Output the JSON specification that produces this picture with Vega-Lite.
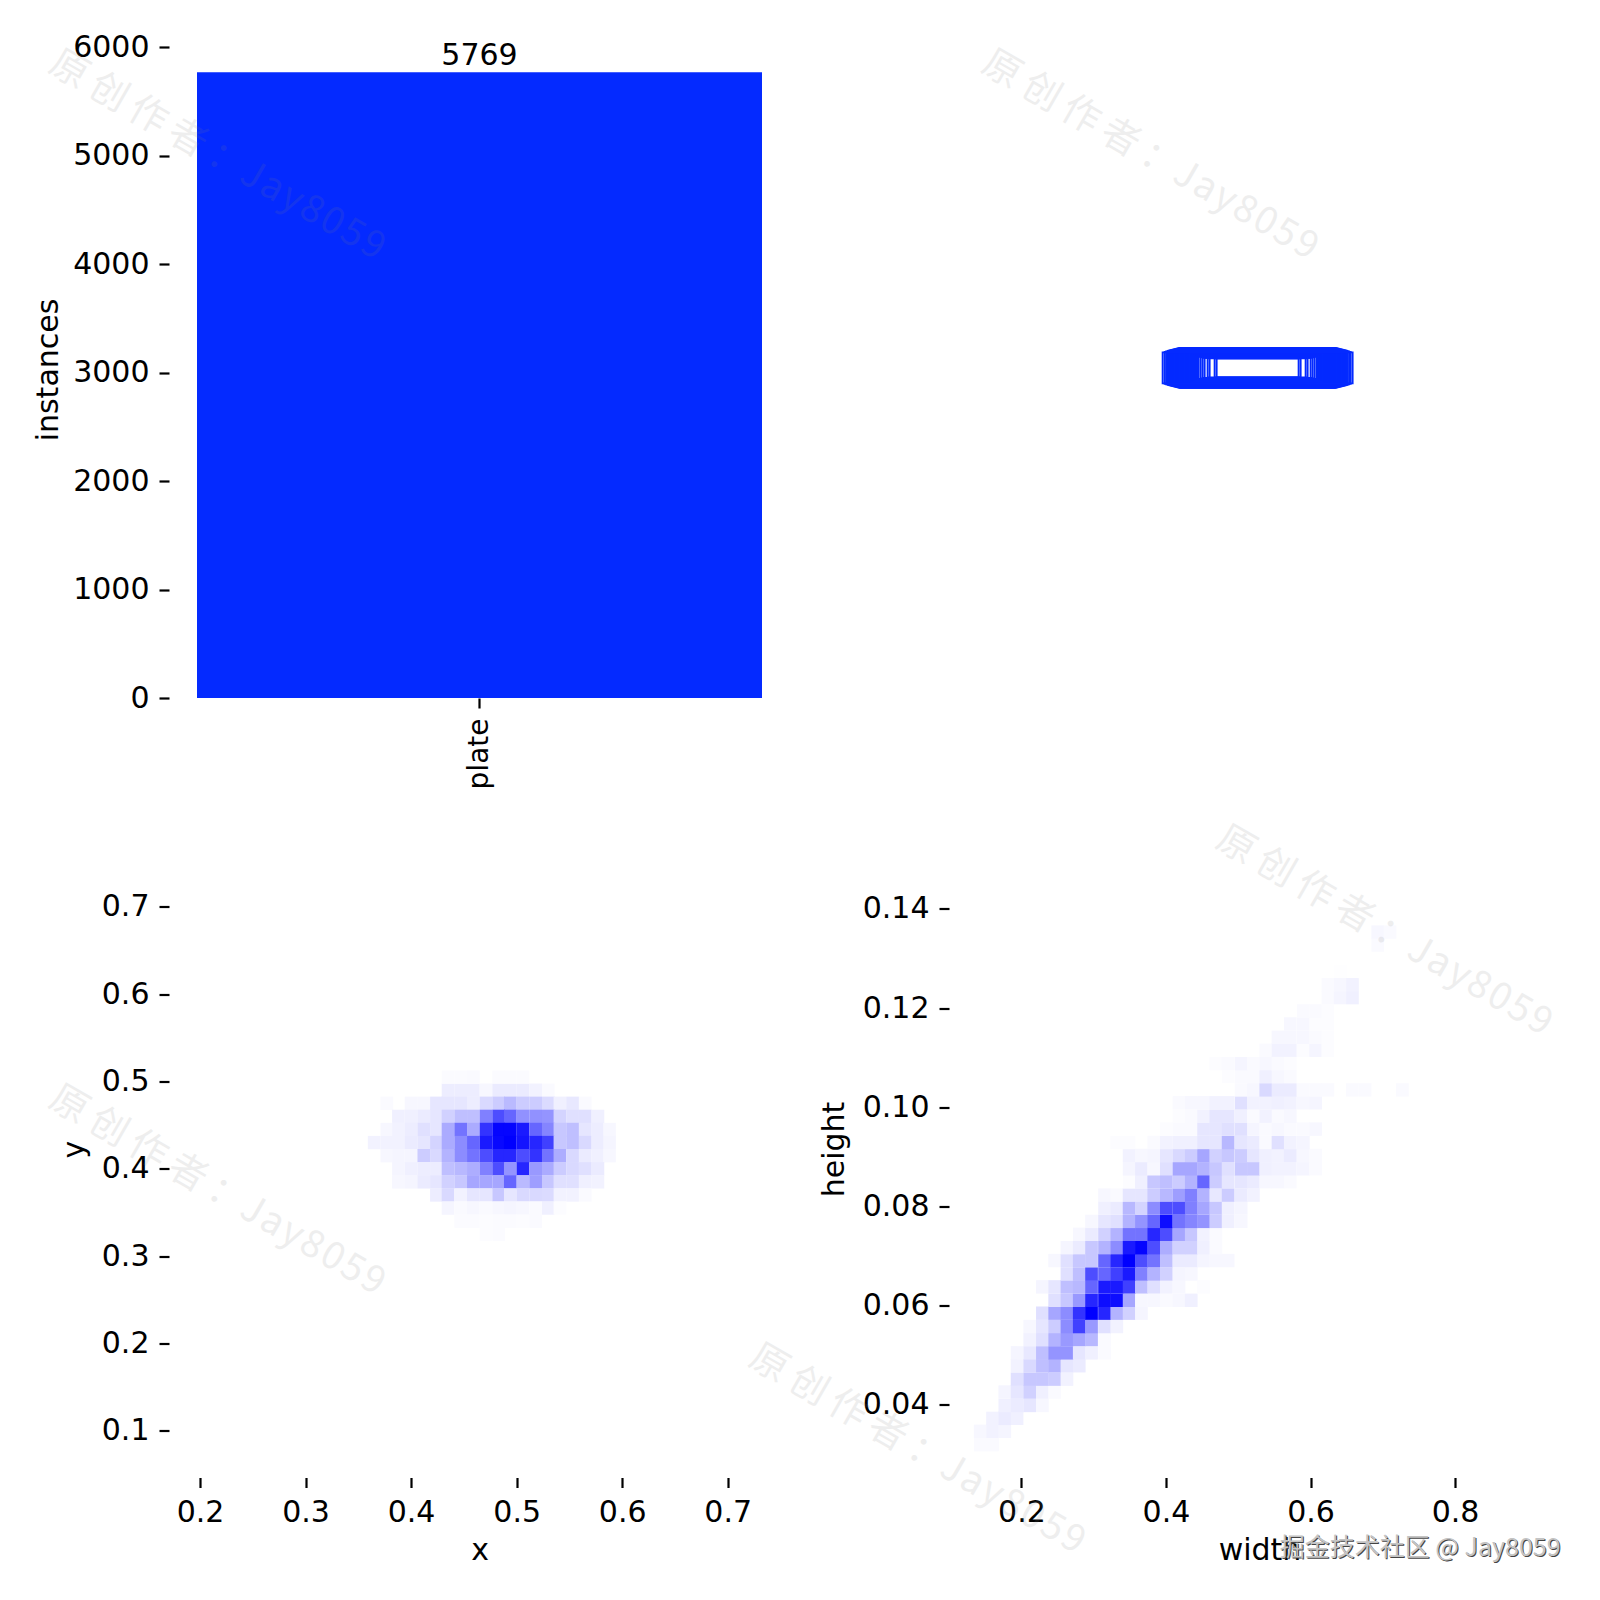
{
"$schema":"https://vega.github.io/schema/vega-lite/v6.json",
"background":"white",
"padding":{"left":33,"top":32,"right":0,"bottom":0},
"config":{"view":{"stroke":null},"axis":{"grid":false,"domain":false,"labelFont":"DejaVu Sans","titleFont":"DejaVu Sans","labelFontSize":30,"titleFontSize":30,"titleFontWeight":"normal","labelColor":"#000","titleColor":"#000","tickColor":"#000","tickSize":10,"tickWidth":2.2,"labelPadding":10,"labelFlush":false,"labelOverlap":false}},
"datasets":{
"xy":[
{"x":0.435,"y":0.490,"n":0.07},{"x":0.447,"y":0.490,"n":0.07},{"x":0.459,"y":0.490,"n":0.07},{"x":0.471,"y":0.490,"n":0.03},{"x":0.483,"y":0.490,"n":0.08},{"x":0.494,"y":0.490,"n":0.08},{"x":0.506,"y":0.490,"n":0.08},{"x":0.518,"y":0.490,"n":0.05},{"x":0.530,"y":0.490,"n":0.02},
{"x":0.435,"y":0.505,"n":0.015},{"x":0.447,"y":0.505,"n":0.015},{"x":0.459,"y":0.505,"n":0.02},{"x":0.483,"y":0.505,"n":0.015},{"x":0.494,"y":0.505,"n":0.015},{"x":0.506,"y":0.505,"n":0.015},
{"x":0.377,"y":0.475,"n":0.02},{"x":0.400,"y":0.475,"n":0.03},{"x":0.412,"y":0.475,"n":0.03},{"x":0.424,"y":0.475,"n":0.1},{"x":0.435,"y":0.475,"n":0.1},{"x":0.447,"y":0.475,"n":0.1},{"x":0.459,"y":0.475,"n":0.07},{"x":0.471,"y":0.475,"n":0.15},{"x":0.483,"y":0.475,"n":0.2},{"x":0.494,"y":0.475,"n":0.27},{"x":0.506,"y":0.475,"n":0.2},{"x":0.518,"y":0.475,"n":0.2},{"x":0.530,"y":0.475,"n":0.14},{"x":0.541,"y":0.475,"n":0.06},{"x":0.553,"y":0.475,"n":0.09},{"x":0.565,"y":0.475,"n":0.02},
{"x":0.388,"y":0.460,"n":0.06},{"x":0.400,"y":0.460,"n":0.06},{"x":0.412,"y":0.460,"n":0.08},{"x":0.424,"y":0.460,"n":0.1},{"x":0.435,"y":0.460,"n":0.18},{"x":0.447,"y":0.460,"n":0.25},{"x":0.459,"y":0.460,"n":0.25},{"x":0.471,"y":0.460,"n":0.5},{"x":0.483,"y":0.460,"n":0.7},{"x":0.494,"y":0.460,"n":0.6},{"x":0.506,"y":0.460,"n":0.43},{"x":0.518,"y":0.460,"n":0.43},{"x":0.530,"y":0.460,"n":0.42},{"x":0.541,"y":0.460,"n":0.17},{"x":0.553,"y":0.460,"n":0.12},{"x":0.565,"y":0.460,"n":0.12},{"x":0.577,"y":0.460,"n":0.06},
{"x":0.377,"y":0.445,"n":0.03},{"x":0.388,"y":0.445,"n":0.05},{"x":0.400,"y":0.445,"n":0.07},{"x":0.412,"y":0.445,"n":0.12},{"x":0.424,"y":0.445,"n":0.1},{"x":0.435,"y":0.445,"n":0.33},{"x":0.447,"y":0.445,"n":0.55},{"x":0.459,"y":0.445,"n":0.33},{"x":0.471,"y":0.445,"n":0.8},{"x":0.483,"y":0.445,"n":0.98},{"x":0.494,"y":0.445,"n":0.98},{"x":0.506,"y":0.445,"n":0.9},{"x":0.518,"y":0.445,"n":0.6},{"x":0.530,"y":0.445,"n":0.48},{"x":0.541,"y":0.445,"n":0.22},{"x":0.553,"y":0.445,"n":0.25},{"x":0.565,"y":0.445,"n":0.1},{"x":0.577,"y":0.445,"n":0.07},{"x":0.588,"y":0.445,"n":0.03},
{"x":0.365,"y":0.430,"n":0.05},{"x":0.377,"y":0.430,"n":0.05},{"x":0.388,"y":0.430,"n":0.05},{"x":0.400,"y":0.430,"n":0.08},{"x":0.412,"y":0.430,"n":0.1},{"x":0.424,"y":0.430,"n":0.17},{"x":0.435,"y":0.430,"n":0.33},{"x":0.447,"y":0.430,"n":0.45},{"x":0.459,"y":0.430,"n":0.6},{"x":0.471,"y":0.430,"n":0.9},{"x":0.483,"y":0.430,"n":0.97},{"x":0.494,"y":0.430,"n":1},{"x":0.506,"y":0.430,"n":0.92},{"x":0.518,"y":0.430,"n":0.85},{"x":0.530,"y":0.430,"n":0.75},{"x":0.541,"y":0.430,"n":0.22},{"x":0.553,"y":0.430,"n":0.25},{"x":0.565,"y":0.430,"n":0.15},{"x":0.577,"y":0.430,"n":0.07},{"x":0.588,"y":0.430,"n":0.04},
{"x":0.377,"y":0.415,"n":0.03},{"x":0.388,"y":0.415,"n":0.04},{"x":0.400,"y":0.415,"n":0.04},{"x":0.412,"y":0.415,"n":0.2},{"x":0.424,"y":0.415,"n":0.15},{"x":0.435,"y":0.415,"n":0.3},{"x":0.447,"y":0.415,"n":0.45},{"x":0.459,"y":0.415,"n":0.55},{"x":0.471,"y":0.415,"n":0.7},{"x":0.483,"y":0.415,"n":0.85},{"x":0.494,"y":0.415,"n":0.85},{"x":0.506,"y":0.415,"n":0.7},{"x":0.518,"y":0.415,"n":0.8},{"x":0.530,"y":0.415,"n":0.55},{"x":0.541,"y":0.415,"n":0.32},{"x":0.553,"y":0.415,"n":0.15},{"x":0.565,"y":0.415,"n":0.08},{"x":0.577,"y":0.415,"n":0.06},{"x":0.588,"y":0.415,"n":0.03},
{"x":0.388,"y":0.400,"n":0.04},{"x":0.400,"y":0.400,"n":0.06},{"x":0.412,"y":0.400,"n":0.07},{"x":0.424,"y":0.400,"n":0.07},{"x":0.435,"y":0.400,"n":0.25},{"x":0.447,"y":0.400,"n":0.28},{"x":0.459,"y":0.400,"n":0.32},{"x":0.471,"y":0.400,"n":0.5},{"x":0.483,"y":0.400,"n":0.7},{"x":0.494,"y":0.400,"n":0.42},{"x":0.506,"y":0.400,"n":0.85},{"x":0.518,"y":0.400,"n":0.4},{"x":0.530,"y":0.400,"n":0.33},{"x":0.541,"y":0.400,"n":0.2},{"x":0.553,"y":0.400,"n":0.15},{"x":0.565,"y":0.400,"n":0.12},{"x":0.577,"y":0.400,"n":0.08},
{"x":0.388,"y":0.385,"n":0.03},{"x":0.400,"y":0.385,"n":0.04},{"x":0.412,"y":0.385,"n":0.08},{"x":0.424,"y":0.385,"n":0.1},{"x":0.435,"y":0.385,"n":0.18},{"x":0.447,"y":0.385,"n":0.22},{"x":0.459,"y":0.385,"n":0.35},{"x":0.471,"y":0.385,"n":0.35},{"x":0.483,"y":0.385,"n":0.35},{"x":0.494,"y":0.385,"n":0.6},{"x":0.506,"y":0.385,"n":0.27},{"x":0.518,"y":0.385,"n":0.38},{"x":0.530,"y":0.385,"n":0.22},{"x":0.541,"y":0.385,"n":0.12},{"x":0.553,"y":0.385,"n":0.12},{"x":0.565,"y":0.385,"n":0.06},{"x":0.577,"y":0.385,"n":0.05},
{"x":0.424,"y":0.370,"n":0.07},{"x":0.435,"y":0.370,"n":0.15},{"x":0.447,"y":0.370,"n":0.05},{"x":0.459,"y":0.370,"n":0.1},{"x":0.471,"y":0.370,"n":0.1},{"x":0.483,"y":0.370,"n":0.22},{"x":0.494,"y":0.370,"n":0.1},{"x":0.506,"y":0.370,"n":0.15},{"x":0.518,"y":0.370,"n":0.15},{"x":0.530,"y":0.370,"n":0.14},{"x":0.541,"y":0.370,"n":0.05},{"x":0.553,"y":0.370,"n":0.05},{"x":0.565,"y":0.370,"n":0.02},
{"x":0.435,"y":0.355,"n":0.04},{"x":0.447,"y":0.355,"n":0.02},{"x":0.459,"y":0.355,"n":0.03},{"x":0.471,"y":0.355,"n":0.02},{"x":0.483,"y":0.355,"n":0.03},{"x":0.494,"y":0.355,"n":0.04},{"x":0.506,"y":0.355,"n":0.03},{"x":0.518,"y":0.355,"n":0.02},{"x":0.530,"y":0.355,"n":0.06},{"x":0.541,"y":0.355,"n":0.01},
{"x":0.447,"y":0.340,"n":0.015},{"x":0.459,"y":0.340,"n":0.015},{"x":0.471,"y":0.340,"n":0.01},{"x":0.483,"y":0.340,"n":0.015},{"x":0.494,"y":0.340,"n":0.015},{"x":0.506,"y":0.340,"n":0.01},{"x":0.518,"y":0.340,"n":0.02},
{"x":0.471,"y":0.325,"n":0.01},{"x":0.483,"y":0.325,"n":0.015}
],
"wh":[
{"x":0.143,"y":0.0320,"n":0.02},{"x":0.160,"y":0.0320,"n":0.02},
{"x":0.143,"y":0.0347,"n":0.03},{"x":0.160,"y":0.0347,"n":0.05},{"x":0.177,"y":0.0347,"n":0.04},
{"x":0.160,"y":0.0373,"n":0.05},{"x":0.177,"y":0.0373,"n":0.08},{"x":0.194,"y":0.0373,"n":0.06},
{"x":0.177,"y":0.0399,"n":0.06},{"x":0.194,"y":0.0399,"n":0.08},{"x":0.2115,"y":0.0399,"n":0.1},{"x":0.229,"y":0.0399,"n":0.03},
{"x":0.177,"y":0.0426,"n":0.04},{"x":0.194,"y":0.0426,"n":0.1},{"x":0.2115,"y":0.0426,"n":0.18},{"x":0.229,"y":0.0426,"n":0.06},{"x":0.246,"y":0.0426,"n":0.02},
{"x":0.194,"y":0.0452,"n":0.12},{"x":0.2115,"y":0.0452,"n":0.22},{"x":0.229,"y":0.0452,"n":0.22},{"x":0.246,"y":0.0452,"n":0.2},{"x":0.263,"y":0.0452,"n":0.05},
{"x":0.194,"y":0.0479,"n":0.05},{"x":0.2115,"y":0.0479,"n":0.15},{"x":0.229,"y":0.0479,"n":0.25},{"x":0.246,"y":0.0479,"n":0.3},{"x":0.263,"y":0.0479,"n":0.1},{"x":0.280,"y":0.0479,"n":0.08},
{"x":0.194,"y":0.0505,"n":0.04},{"x":0.2115,"y":0.0505,"n":0.09},{"x":0.229,"y":0.0505,"n":0.25},{"x":0.246,"y":0.0505,"n":0.42},{"x":0.263,"y":0.0505,"n":0.42},{"x":0.280,"y":0.0505,"n":0.1},{"x":0.297,"y":0.0505,"n":0.06},{"x":0.315,"y":0.0505,"n":0.02},
{"x":0.2115,"y":0.0532,"n":0.05},{"x":0.229,"y":0.0532,"n":0.12},{"x":0.246,"y":0.0532,"n":0.3},{"x":0.263,"y":0.0532,"n":0.4},{"x":0.280,"y":0.0532,"n":0.35},{"x":0.297,"y":0.0532,"n":0.28},{"x":0.315,"y":0.0532,"n":0.02},
{"x":0.2115,"y":0.0558,"n":0.03},{"x":0.229,"y":0.0558,"n":0.1},{"x":0.246,"y":0.0558,"n":0.2},{"x":0.263,"y":0.0558,"n":0.45},{"x":0.280,"y":0.0558,"n":0.75},{"x":0.297,"y":0.0558,"n":0.4},{"x":0.315,"y":0.0558,"n":0.12},{"x":0.332,"y":0.0558,"n":0.05},
{"x":0.229,"y":0.0585,"n":0.12},{"x":0.246,"y":0.0585,"n":0.35},{"x":0.263,"y":0.0585,"n":0.45},{"x":0.280,"y":0.0585,"n":0.8},{"x":0.297,"y":0.0585,"n":1},{"x":0.315,"y":0.0585,"n":0.85},{"x":0.332,"y":0.0585,"n":0.3},{"x":0.349,"y":0.0585,"n":0.18},{"x":0.366,"y":0.0585,"n":0.04},
{"x":0.246,"y":0.0611,"n":0.12},{"x":0.263,"y":0.0611,"n":0.22},{"x":0.280,"y":0.0611,"n":0.4},{"x":0.297,"y":0.0611,"n":0.85},{"x":0.315,"y":0.0611,"n":0.95},{"x":0.332,"y":0.0611,"n":0.95},{"x":0.349,"y":0.0611,"n":0.35},{"x":0.366,"y":0.0611,"n":0.03},{"x":0.383,"y":0.0611,"n":0.03},{"x":0.4005,"y":0.0611,"n":0.02},{"x":0.418,"y":0.0611,"n":0.03},{"x":0.435,"y":0.0611,"n":0.06},
{"x":0.229,"y":0.0638,"n":0.04},{"x":0.246,"y":0.0638,"n":0.1},{"x":0.263,"y":0.0638,"n":0.25},{"x":0.280,"y":0.0638,"n":0.28},{"x":0.297,"y":0.0638,"n":0.6},{"x":0.315,"y":0.0638,"n":0.9},{"x":0.332,"y":0.0638,"n":0.9},{"x":0.349,"y":0.0638,"n":0.75},{"x":0.366,"y":0.0638,"n":0.25},{"x":0.383,"y":0.0638,"n":0.12},{"x":0.4005,"y":0.0638,"n":0.05},{"x":0.418,"y":0.0638,"n":0.03},{"x":0.452,"y":0.0638,"n":0.01},
{"x":0.263,"y":0.0664,"n":0.12},{"x":0.280,"y":0.0664,"n":0.25},{"x":0.297,"y":0.0664,"n":0.7},{"x":0.315,"y":0.0664,"n":0.6},{"x":0.332,"y":0.0664,"n":0.75},{"x":0.349,"y":0.0664,"n":0.9},{"x":0.366,"y":0.0664,"n":0.5},{"x":0.383,"y":0.0664,"n":0.3},{"x":0.4005,"y":0.0664,"n":0.18},{"x":0.418,"y":0.0664,"n":0.04},{"x":0.435,"y":0.0664,"n":0.03},
{"x":0.246,"y":0.0691,"n":0.03},{"x":0.263,"y":0.0691,"n":0.12},{"x":0.280,"y":0.0691,"n":0.22},{"x":0.297,"y":0.0691,"n":0.22},{"x":0.315,"y":0.0691,"n":0.6},{"x":0.332,"y":0.0691,"n":0.85},{"x":0.349,"y":0.0691,"n":1},{"x":0.366,"y":0.0691,"n":0.7},{"x":0.383,"y":0.0691,"n":0.55},{"x":0.4005,"y":0.0691,"n":0.25},{"x":0.418,"y":0.0691,"n":0.08},{"x":0.435,"y":0.0691,"n":0.08},{"x":0.452,"y":0.0691,"n":0.04},{"x":0.469,"y":0.0691,"n":0.03},{"x":0.486,"y":0.0691,"n":0.03},
{"x":0.263,"y":0.0717,"n":0.04},{"x":0.280,"y":0.0717,"n":0.08},{"x":0.297,"y":0.0717,"n":0.22},{"x":0.315,"y":0.0717,"n":0.3},{"x":0.332,"y":0.0717,"n":0.45},{"x":0.349,"y":0.0717,"n":0.9},{"x":0.366,"y":0.0717,"n":0.98},{"x":0.383,"y":0.0717,"n":0.7},{"x":0.4005,"y":0.0717,"n":0.32},{"x":0.418,"y":0.0717,"n":0.18},{"x":0.435,"y":0.0717,"n":0.18},{"x":0.452,"y":0.0717,"n":0.06},{"x":0.469,"y":0.0717,"n":0.02},
{"x":0.280,"y":0.0744,"n":0.03},{"x":0.297,"y":0.0744,"n":0.08},{"x":0.315,"y":0.0744,"n":0.18},{"x":0.332,"y":0.0744,"n":0.3},{"x":0.349,"y":0.0744,"n":0.55},{"x":0.366,"y":0.0744,"n":0.55},{"x":0.383,"y":0.0744,"n":0.85},{"x":0.4005,"y":0.0744,"n":0.7},{"x":0.418,"y":0.0744,"n":0.35},{"x":0.435,"y":0.0744,"n":0.22},{"x":0.452,"y":0.0744,"n":0.05},{"x":0.469,"y":0.0744,"n":0.02},
{"x":0.297,"y":0.0770,"n":0.03},{"x":0.315,"y":0.0770,"n":0.1},{"x":0.332,"y":0.0770,"n":0.12},{"x":0.349,"y":0.0770,"n":0.3},{"x":0.366,"y":0.0770,"n":0.42},{"x":0.383,"y":0.0770,"n":0.6},{"x":0.4005,"y":0.0770,"n":0.95},{"x":0.418,"y":0.0770,"n":0.55},{"x":0.435,"y":0.0770,"n":0.48},{"x":0.452,"y":0.0770,"n":0.42},{"x":0.469,"y":0.0770,"n":0.2},{"x":0.486,"y":0.0770,"n":0.06},{"x":0.504,"y":0.0770,"n":0.03},
{"x":0.315,"y":0.0797,"n":0.06},{"x":0.332,"y":0.0797,"n":0.08},{"x":0.349,"y":0.0797,"n":0.28},{"x":0.366,"y":0.0797,"n":0.17},{"x":0.383,"y":0.0797,"n":0.45},{"x":0.4005,"y":0.0797,"n":0.7},{"x":0.418,"y":0.0797,"n":0.7},{"x":0.435,"y":0.0797,"n":0.5},{"x":0.452,"y":0.0797,"n":0.35},{"x":0.469,"y":0.0797,"n":0.22},{"x":0.486,"y":0.0797,"n":0.06},{"x":0.504,"y":0.0797,"n":0.04},
{"x":0.315,"y":0.0823,"n":0.03},{"x":0.332,"y":0.0823,"n":0.02},{"x":0.349,"y":0.0823,"n":0.1},{"x":0.366,"y":0.0823,"n":0.1},{"x":0.383,"y":0.0823,"n":0.2},{"x":0.4005,"y":0.0823,"n":0.28},{"x":0.418,"y":0.0823,"n":0.38},{"x":0.435,"y":0.0823,"n":0.5},{"x":0.452,"y":0.0823,"n":0.3},{"x":0.469,"y":0.0823,"n":0.09},{"x":0.486,"y":0.0823,"n":0.2},{"x":0.504,"y":0.0823,"n":0.08},{"x":0.521,"y":0.0823,"n":0.05},
{"x":0.349,"y":0.0850,"n":0.01},{"x":0.366,"y":0.0850,"n":0.06},{"x":0.383,"y":0.0850,"n":0.22},{"x":0.4005,"y":0.0850,"n":0.25},{"x":0.418,"y":0.0850,"n":0.2},{"x":0.435,"y":0.0850,"n":0.3},{"x":0.452,"y":0.0850,"n":0.6},{"x":0.469,"y":0.0850,"n":0.2},{"x":0.486,"y":0.0850,"n":0.1},{"x":0.504,"y":0.0850,"n":0.1},{"x":0.521,"y":0.0850,"n":0.08},{"x":0.538,"y":0.0850,"n":0.03},{"x":0.555,"y":0.0850,"n":0.03},{"x":0.572,"y":0.0850,"n":0.02},
{"x":0.349,"y":0.0876,"n":0.04},{"x":0.366,"y":0.0876,"n":0.08},{"x":0.383,"y":0.0876,"n":0.03},{"x":0.4005,"y":0.0876,"n":0.12},{"x":0.418,"y":0.0876,"n":0.35},{"x":0.435,"y":0.0876,"n":0.35},{"x":0.452,"y":0.0876,"n":0.3},{"x":0.469,"y":0.0876,"n":0.22},{"x":0.486,"y":0.0876,"n":0.12},{"x":0.504,"y":0.0876,"n":0.22},{"x":0.521,"y":0.0876,"n":0.22},{"x":0.538,"y":0.0876,"n":0.06},{"x":0.555,"y":0.0876,"n":0.05},{"x":0.572,"y":0.0876,"n":0.05},{"x":0.590,"y":0.0876,"n":0.04},{"x":0.607,"y":0.0876,"n":0.02},
{"x":0.349,"y":0.0903,"n":0.05},{"x":0.366,"y":0.0903,"n":0.03},{"x":0.383,"y":0.0903,"n":0.04},{"x":0.4005,"y":0.0903,"n":0.1},{"x":0.418,"y":0.0903,"n":0.15},{"x":0.435,"y":0.0903,"n":0.2},{"x":0.452,"y":0.0903,"n":0.35},{"x":0.469,"y":0.0903,"n":0.18},{"x":0.486,"y":0.0903,"n":0.22},{"x":0.504,"y":0.0903,"n":0.2},{"x":0.521,"y":0.0903,"n":0.1},{"x":0.538,"y":0.0903,"n":0.06},{"x":0.555,"y":0.0903,"n":0.05},{"x":0.572,"y":0.0903,"n":0.08},{"x":0.590,"y":0.0903,"n":0.03},{"x":0.607,"y":0.0903,"n":0.02},
{"x":0.332,"y":0.0929,"n":0.01},{"x":0.349,"y":0.0929,"n":0.01},{"x":0.383,"y":0.0929,"n":0.02},{"x":0.4005,"y":0.0929,"n":0.05},{"x":0.418,"y":0.0929,"n":0.06},{"x":0.435,"y":0.0929,"n":0.06},{"x":0.452,"y":0.0929,"n":0.1},{"x":0.469,"y":0.0929,"n":0.1},{"x":0.486,"y":0.0929,"n":0.28},{"x":0.504,"y":0.0929,"n":0.1},{"x":0.521,"y":0.0929,"n":0.08},{"x":0.538,"y":0.0929,"n":0.02},{"x":0.555,"y":0.0929,"n":0.12},{"x":0.572,"y":0.0929,"n":0.05},{"x":0.590,"y":0.0929,"n":0.04},
{"x":0.4005,"y":0.0956,"n":0.01},{"x":0.418,"y":0.0956,"n":0.02},{"x":0.435,"y":0.0956,"n":0.02},{"x":0.452,"y":0.0956,"n":0.1},{"x":0.469,"y":0.0956,"n":0.1},{"x":0.486,"y":0.0956,"n":0.12},{"x":0.504,"y":0.0956,"n":0.12},{"x":0.521,"y":0.0956,"n":0.04},{"x":0.538,"y":0.0956,"n":0.02},{"x":0.555,"y":0.0956,"n":0.03},{"x":0.572,"y":0.0956,"n":0.02},{"x":0.590,"y":0.0956,"n":0.02},{"x":0.607,"y":0.0956,"n":0.03},
{"x":0.418,"y":0.0982,"n":0.01},{"x":0.435,"y":0.0982,"n":0.02},{"x":0.452,"y":0.0982,"n":0.05},{"x":0.469,"y":0.0982,"n":0.1},{"x":0.486,"y":0.0982,"n":0.1},{"x":0.504,"y":0.0982,"n":0.06},{"x":0.521,"y":0.0982,"n":0.02},{"x":0.538,"y":0.0982,"n":0.05},{"x":0.555,"y":0.0982,"n":0.02},{"x":0.572,"y":0.0982,"n":0.03},
{"x":0.418,"y":0.1009,"n":0.02},{"x":0.435,"y":0.1009,"n":0.03},{"x":0.452,"y":0.1009,"n":0.03},{"x":0.469,"y":0.1009,"n":0.05},{"x":0.504,"y":0.1009,"n":0.12},{"x":0.486,"y":0.1009,"n":0.05},{"x":0.521,"y":0.1009,"n":0.05},{"x":0.538,"y":0.1009,"n":0.05},{"x":0.555,"y":0.1009,"n":0.06},{"x":0.572,"y":0.1009,"n":0.05},{"x":0.590,"y":0.1009,"n":0.03},{"x":0.607,"y":0.1009,"n":0.04},
{"x":0.504,"y":0.1035,"n":0.02},{"x":0.521,"y":0.1035,"n":0.03},{"x":0.538,"y":0.1035,"n":0.15},{"x":0.555,"y":0.1035,"n":0.08},{"x":0.572,"y":0.1035,"n":0.08},{"x":0.590,"y":0.1035,"n":0.02},{"x":0.607,"y":0.1035,"n":0.02},{"x":0.624,"y":0.1035,"n":0.02},{"x":0.658,"y":0.1035,"n":0.02},{"x":0.6755,"y":0.1035,"n":0.02},{"x":0.727,"y":0.1035,"n":0.02},
{"x":0.486,"y":0.1062,"n":0.01},{"x":0.504,"y":0.1062,"n":0.02},{"x":0.521,"y":0.1062,"n":0.02},{"x":0.538,"y":0.1062,"n":0.06},{"x":0.555,"y":0.1062,"n":0.03},{"x":0.572,"y":0.1062,"n":0.02},
{"x":0.469,"y":0.1088,"n":0.01},{"x":0.486,"y":0.1088,"n":0.02},{"x":0.504,"y":0.1088,"n":0.04},{"x":0.521,"y":0.1088,"n":0.02},{"x":0.538,"y":0.1088,"n":0.03},{"x":0.555,"y":0.1088,"n":0.02},{"x":0.572,"y":0.1088,"n":0.01},
{"x":0.538,"y":0.1115,"n":0.02},{"x":0.555,"y":0.1115,"n":0.05},{"x":0.572,"y":0.1115,"n":0.05},{"x":0.590,"y":0.1115,"n":0.01},{"x":0.607,"y":0.1115,"n":0.04},{"x":0.624,"y":0.1115,"n":0.01},
{"x":0.555,"y":0.1141,"n":0.03},{"x":0.572,"y":0.1141,"n":0.03},{"x":0.590,"y":0.1141,"n":0.03},{"x":0.607,"y":0.1141,"n":0.02},{"x":0.624,"y":0.1141,"n":0.01},
{"x":0.572,"y":0.1168,"n":0.03},{"x":0.590,"y":0.1168,"n":0.03},{"x":0.607,"y":0.1168,"n":0.01},{"x":0.624,"y":0.1168,"n":0.01},
{"x":0.590,"y":0.1194,"n":0.02},{"x":0.607,"y":0.1194,"n":0.02},{"x":0.624,"y":0.1194,"n":0.01},
{"x":0.624,"y":0.1221,"n":0.02},{"x":0.641,"y":0.1221,"n":0.04},{"x":0.658,"y":0.1221,"n":0.06},
{"x":0.624,"y":0.1247,"n":0.02},{"x":0.641,"y":0.1247,"n":0.03},{"x":0.658,"y":0.1247,"n":0.05},
{"x":0.641,"y":0.1274,"n":0.005},
{"x":0.693,"y":0.1327,"n":0.02},{"x":0.693,"y":0.1353,"n":0.03},{"x":0.710,"y":0.1353,"n":0.02}
],
"boxes":[
{"x":862,"x2":1126,"y":966,"y2":1024},{"x":855.5,"x2":1132.5,"y":966,"y2":1024},{"x":839.4,"x2":1148.6,"y":964.6,"y2":1025.4},{"x":833,"x2":1155,"y":966,"y2":1024},{"x":823.3,"x2":1164.7,"y":964.6,"y2":1025.4},{"x":816.9,"x2":1171.1,"y":964.6,"y2":1025.4},{"x":810.5,"x2":1177.5,"y":963.1,"y2":1026.9},
{"x":804,"x2":1184,"y":961.6,"y2":1028.4},{"x":800.8,"x2":1187.2,"y":960,"y2":1030},{"x":797.6,"x2":1190.4,"y":958.5,"y2":1031.5},{"x":794.4,"x2":1193.6,"y":957,"y2":1033},{"x":791.1,"x2":1196.9,"y":955.5,"y2":1034.5},{"x":787.9,"x2":1200.1,"y":954,"y2":1036},{"x":784.7,"x2":1203.3,"y":952.4,"y2":1037.6},{"x":781.5,"x2":1206.5,"y":950.9,"y2":1039.1},{"x":778.3,"x2":1209.7,"y":949.4,"y2":1040.6},{"x":775,"x2":1213,"y":947.9,"y2":1042.1},{"x":771.8,"x2":1216.2,"y":946.4,"y2":1043.6},{"x":768.6,"x2":1219.4,"y":944.8,"y2":1045.2},{"x":765.4,"x2":1222.6,"y":943.3,"y2":1046.7},{"x":762.2,"x2":1225.8,"y":941.8,"y2":1048.2},{"x":758.9,"x2":1229.1,"y":940.3,"y2":1049.7},{"x":755.7,"x2":1232.3,"y":938.8,"y2":1051.2},{"x":752.5,"x2":1235.5,"y":937.2,"y2":1052.8},{"x":749.3,"x2":1238.7,"y":935.7,"y2":1054.3},{"x":746.1,"x2":1241.9,"y":934.2,"y2":1055.8},
{"x":742.8,"x2":1245.2,"y":934.2,"y2":1055.8},{"x":739.6,"x2":1248.4,"y":935,"y2":1055},{"x":736.4,"x2":1251.6,"y":935.7,"y2":1054.3},{"x":733.2,"x2":1254.8,"y":936.5,"y2":1053.5},{"x":730,"x2":1258,"y":937.2,"y2":1052.8},{"x":726.7,"x2":1261.3,"y":938,"y2":1052},{"x":723.5,"x2":1264.5,"y":938.8,"y2":1051.2},{"x":720.3,"x2":1267.7,"y":939.5,"y2":1050.5},{"x":717.1,"x2":1270.9,"y":940.3,"y2":1049.7},{"x":713.9,"x2":1274.1,"y":941,"y2":1049},{"x":710.6,"x2":1277.4,"y":941.8,"y2":1048.2},{"x":707.4,"x2":1280.6,"y":942.6,"y2":1047.4},{"x":704.2,"x2":1283.8,"y":943.3,"y2":1046.7},{"x":699.4,"x2":1288.6,"y":944.8,"y2":1045.2},{"x":694.5,"x2":1293.5,"y":946.4,"y2":1043.6},{"x":688.1,"x2":1299.9,"y":947.9,"y2":1042.1}
]
},
"concat":[
{"width":621,"height":657,"layer":[
{"data":{"values":[{"class":"plate","instances":5769}]},"mark":{"type":"bar","width":565,"color":"#042aff"},"encoding":{"x":{"field":"class","type":"nominal","title":null,"axis":{"labelAngle":-90,"labelFontSize":28}},"y":{"field":"instances","type":"quantitative","scale":{"domain":[0,6057],"nice":false},"axis":{"title":"instances","values":[0,1000,2000,3000,4000,5000,6000],"format":"d","titlePadding":9}}}},
{"data":{"values":[{"class":"plate","instances":5769}]},"mark":{"type":"text","font":"DejaVu Sans","fontSize":30,"color":"#000","baseline":"bottom","dy":-1},"encoding":{"x":{"field":"class","type":"nominal","axis":null},"y":{"field":"instances","type":"quantitative"},"text":{"field":"instances","type":"quantitative","format":"d"}}},
{"data":{"values":[{"wx":0.0773,"wy":4995,"t":"原\u2009创\u2009作\u2009者\u2009：J\u200aa\u200ay\u200a8\u200a0\u200a5\u200a9"}]},"mark":{"type":"text","font":"Noto Sans CJK SC","fontSize":38,"angle":30,"color":"#808080","opacity":0.13},"encoding":{"x":{"field":"wx","type":"quantitative","scale":{"domain":[0,1]},"axis":null},"y":{"field":"wy","type":"quantitative"},"text":{"field":"t"}}}
],"resolve":{"scale":{"x":"independent"}}},
{"width":621,"height":657,"layer":[
{"data":{"name":"boxes"},"mark":{"type":"rect","fillOpacity":0,"stroke":"#042aff","strokeWidth":1.9},"encoding":{"x":{"field":"x","type":"quantitative","scale":{"domain":[0,2000]},"axis":null},"x2":{"field":"x2"},"y":{"field":"y","type":"quantitative","scale":{"domain":[2000,0]},"axis":null},"y2":{"field":"y2"}}},
{"data":{"values":[{"wx":647,"wy":350,"t":"原\u2009创\u2009作\u2009者\u2009：J\u200aa\u200ay\u200a8\u200a0\u200a5\u200a9"}]},"mark":{"type":"text","font":"Noto Sans CJK SC","fontSize":38,"angle":30,"color":"#808080","opacity":0.13},"encoding":{"x":{"field":"wx","type":"quantitative"},"y":{"field":"wy","type":"quantitative"},"text":{"field":"t"}}}
]},
{"width":621,"height":657,"layer":[
{"data":{"name":"xy"},"mark":{"type":"rect","width":12.7,"height":13.4},"encoding":{"x":{"field":"x","type":"quantitative","title":"x","scale":{"domain":[0.1706,0.759],"nice":false},"axis":{"values":[0.2,0.3,0.4,0.5,0.6,0.7],"format":".1f","titlePadding":8}},"y":{"field":"y","type":"quantitative","title":"y","scale":{"domain":[0.0463,0.799],"nice":false},"axis":{"values":[0.1,0.2,0.3,0.4,0.5,0.6,0.7],"format":".1f","titlePadding":12}},"color":{"field":"n","type":"quantitative","legend":null,"scale":{"domain":[0,1],"range":["#ffffff","#0000ff"],"interpolate":"rgb"}}}},
{"data":{"values":[{"wx":0.2161,"wy":0.3745,"t":"原\u2009创\u2009作\u2009者\u2009：J\u200aa\u200ay\u200a8\u200a0\u200a5\u200a9"}]},"mark":{"type":"text","font":"Noto Sans CJK SC","fontSize":38,"angle":30,"color":"#808080","opacity":0.13},"encoding":{"x":{"field":"wx","type":"quantitative"},"y":{"field":"wy","type":"quantitative"},"text":{"field":"t"}}}
]},
{"width":621,"height":657,"layer":[
{"data":{"name":"wh"},"mark":{"type":"rect","width":12.7,"height":13.4},"encoding":{"x":{"field":"x","type":"quantitative","title":"width","scale":{"domain":[0.0998,0.959],"nice":false},"axis":{"values":[0.2,0.4,0.6,0.8],"format":".1f","titlePadding":8}},"y":{"field":"y","type":"quantitative","title":"height","scale":{"domain":[0.02538,0.1578],"nice":false},"axis":{"values":[0.04,0.06,0.08,0.10,0.12,0.14],"format":".2f","titlePadding":13}},"color":{"field":"n","type":"quantitative","legend":null,"scale":{"domain":[0,1],"range":["#ffffff","#0000ff"],"interpolate":"rgb"}}}},
{"data":{"values":[{"wx":0.7017,"wy":0.1354,"t":"原\u2009创\u2009作\u2009者\u2009：J\u200aa\u200ay\u200a8\u200a0\u200a5\u200a9"},{"wx":0.0555,"wy":0.03093,"t":"原\u2009创\u2009作\u2009者\u2009：J\u200aa\u200ay\u200a8\u200a0\u200a5\u200a9"}]},"mark":{"type":"text","font":"Noto Sans CJK SC","fontSize":38,"angle":30,"color":"#808080","opacity":0.13},"encoding":{"x":{"field":"wx","type":"quantitative"},"y":{"field":"wy","type":"quantitative"},"text":{"field":"t"}}},
{"data":{"values":[{"wx":0.7516,"wy":0.01117,"t":"掘金技术社区 @ Jay8059"}]},"mark":{"type":"text","font":"Noto Sans CJK SC","fontSize":25,"color":"#444444","dx":1,"dy":1},"encoding":{"x":{"field":"wx","type":"quantitative"},"y":{"field":"wy","type":"quantitative"},"text":{"field":"t"}}},
{"data":{"values":[{"wx":0.7516,"wy":0.01117,"t":"掘金技术社区 @ Jay8059"}]},"mark":{"type":"text","font":"Noto Sans CJK SC","fontSize":25,"color":"#c4c4c4"},"encoding":{"x":{"field":"wx","type":"quantitative"},"y":{"field":"wy","type":"quantitative"},"text":{"field":"t"}}}
]}
],
"columns":2,
"bounds":"flush",
"spacing":{"row":122.5,"column":159}
}
